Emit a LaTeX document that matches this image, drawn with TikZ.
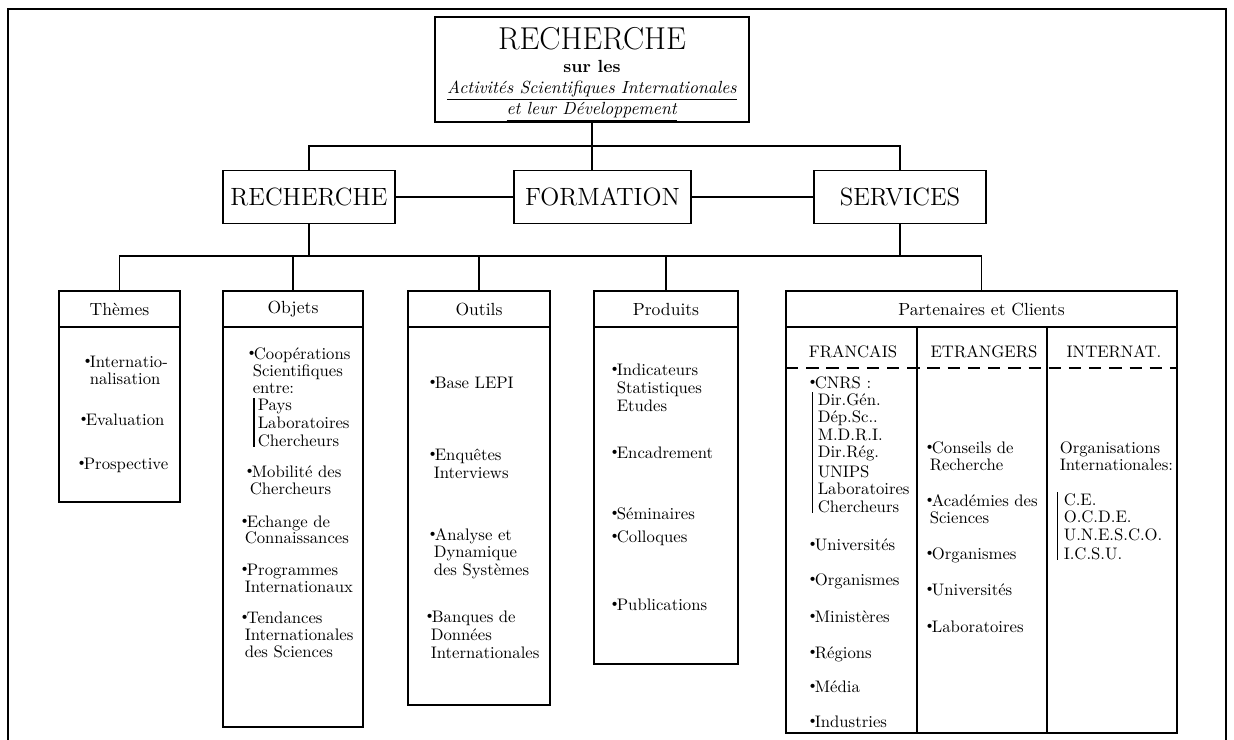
\documentclass[tikz,border=0pt]{standalone}
\usetikzlibrary{positioning}
\newcommand{\bul}{\makebox[4.6pt][l]{\raisebox{.3ex}{\footnotesize\textbullet}}}
\begin{document}
\begin{tikzpicture}[x=0.02cm,y=-0.02cm,line width=0.9pt,
  box/.style={draw,rectangle,inner sep=0pt,outer sep=0pt},
  bigbox/.style={box,minimum height=1.06cm,font=\fontsize{14.2}{16}\selectfont},
  headbox/.style={box,minimum height=0.72cm,font=\fontsize{10}{12}\selectfont},
  bodybox/.style={box,below=0pt of #1},
  colbox/.style={box,anchor=north west,minimum height=8.12cm},
  itemtxt/.style={anchor=base west,inner sep=0pt,font=\fontsize{9.5}{10}\selectfont},
  subhead/.style={itemtxt,anchor=base},
  brace/.style={line width=0.6pt}]
\useasboundingbox (0,0) rectangle (1234,740);
\draw[line width=1.5pt] (8,740) -- (8,9) -- (1226,9) -- (1226,740);

\node[box,minimum width=6.28cm,minimum height=2.06cm,align=center,font=\fontsize{10}{11}\selectfont] (top) at (592,69.5)
  {\rule{0pt}{6pt}\\[-1pt]
   {\fontsize{18}{20}\selectfont RECHERCHE}\\[2pt]
   {\bfseries sur les}\\[1pt]
   \underline{\textit{Activités Scientifiques Internationales}}\\[0pt]
   \underline{\textit{et leur Développement}}};
\node[bigbox,minimum width=3.44cm] (rech) at (309,197) {RECHERCHE};
\node[bigbox,minimum width=3.54cm] (form) at (602.5,197) {FORMATION};
\node[bigbox,minimum width=3.44cm] (serv) at (900,197) {SERVICES};
\coordinate (bar1) at (0,146);
\coordinate (bar2) at (0,256);
\coordinate (dash) at (0,368);

\node[headbox,minimum width=2.42cm] (themes) at (119.5,309) {Thèmes};
\node[headbox,minimum width=2.80cm] (objets) at (293,309) {Objets};
\node[headbox,minimum width=2.84cm] (outils) at (479,309) {Outils};
\node[headbox,minimum width=2.88cm] (produits) at (666,309) {Produits};
\node[headbox,minimum width=7.82cm] (part) at (981.5,309) {Partenaires et Clients};
\node[bodybox=themes,minimum width=2.42cm,minimum height=3.5cm] (themesb) {};
\node[bodybox=objets,minimum width=2.80cm,minimum height=8.0cm] (objetsb) {};
\node[bodybox=outils,minimum width=2.84cm,minimum height=7.56cm] (outilsb) {};
\node[bodybox=produits,minimum width=2.88cm,minimum height=6.74cm] (produitsb) {};
\node[colbox,minimum width=2.62cm] (frc) at (part.south west) {};
\node[colbox,minimum width=2.60cm] (etr) at (frc.north east) {};
\node[colbox,minimum width=2.60cm] (intl) at (etr.north east) {};

\draw (top.south) -- (top.south |- form.north);
\draw (rech.north) -- (rech.north |- bar1) -- (serv.north |- bar1) -- (serv.north);
\draw (rech.east) -- (form.west);
\draw (form.east) -- (serv.west);
\draw (rech.south) -- (rech.south |- bar2);
\draw (serv.south) -- (serv.south |- bar2);
\draw (themes.north) -- (themes.north |- bar2) -- (part.north |- bar2) -- (part.north);
\foreach \n in {objets,outils,produits}
  \draw (\n.north) -- (\n.north |- bar2);

\node[subhead] (frch) at (853,357) {FRANCAIS};
\node[subhead] (etrh) at (984,357) {ETRANGERS};
\node[subhead] (intlh) at (1114,357) {INTERNAT.};
\draw[dashed,dash pattern=on 7pt off 4.5pt] (frc.west |- dash) -- (intl.east |- dash);

\foreach \x/\y/\t [count=\i] in {81/367/\bul Internatio-,89/384/nalisation,77/425/\bul Evaluation,75/469/\bul Prospective}
  \node[itemtxt] (th\i) at (\x,\y) {\t};
\foreach \x/\y/\t [count=\i] in {245/359/\bul Coopérations,252/376/Scientifiques,252/393/entre:,257/410/Pays,257/428/Laboratoires,257/446/Chercheurs,243/477/\bul Mobilité des,249/494/Chercheurs,238/527/\bul Echange de,244/543/Connaissances,238/575/\bul Programmes,244/592/Internationaux,238/623/\bul Tendances,244/640/Internationales,244/657/des Sciences}
  \node[itemtxt] (ob\i) at (\x,\y) {\t};
\foreach \x/\y/\t [count=\i] in {426/388/\bul Base LEPI,426/460/\bul Enquêtes,433/478/Interviews,426/540/\bul Analyse et,433/557/Dynamique,433/575/des Systèmes,423/622/\bul Banques de,430/640/Données,430/658/Internationales}
  \node[itemtxt] (ou\i) at (\x,\y) {\t};
\foreach \x/\y/\t [count=\i] in {608/375/\bul Indicateurs,616/393/Statistiques,616/411/Etudes,608/458/\bul Encadrement,608/519/\bul Séminaires,608/542/\bul Colloques,608/610/\bul Publications}
  \node[itemtxt] (pr\i) at (\x,\y) {\t};
\foreach \x/\y/\t [count=\i] in {806/388/\bul CNRS :,817/405/Dir.Gén.,817/422/Dép.Sc..,817/440/M.D.R.I.,817/457/Dir.Rég.,817/477/UNIPS,817/494/Laboratoires,817/512/Chercheurs,806/550/\bul Universités,806/585/\bul Organismes,806/622/\bul Ministères,806/658/\bul Régions,806/692/\bul Média,806/727/\bul Industries}
  \node[itemtxt] (fr\i) at (\x,\y) {\t};
\foreach \x/\y/\t [count=\i] in {923/453/\bul Conseils de,929/470/Recherche,923/506/\bul Académies des,929/523/Sciences,923/559/\bul Organismes,923/595/\bul Universités,923/632/\bul Laboratoires}
  \node[itemtxt] (et\i) at (\x,\y) {\t};
\foreach \x/\y/\t [count=\i] in {1059/453/Organisations,1059/470/Internationales:,1063/505/C.E.,1063/522/O.C.D.E.,1063/540/U.N.E.S.C.O.,1063/559/I.C.S.U.}
  \node[itemtxt] (in\i) at (\x,\y) {\t};

\draw[brace] ([xshift=-1.7pt]ob4.north west) -- ([xshift=-1.7pt]ob6.south west);
\draw[brace] ([xshift=-2.3pt]fr2.north west) -- ([xshift=-2.3pt]fr8.south west);
\draw[brace] ([xshift=-3.4pt]in3.north west) -- ([xshift=-3.4pt]in6.south west);
\end{tikzpicture}
\end{document}
